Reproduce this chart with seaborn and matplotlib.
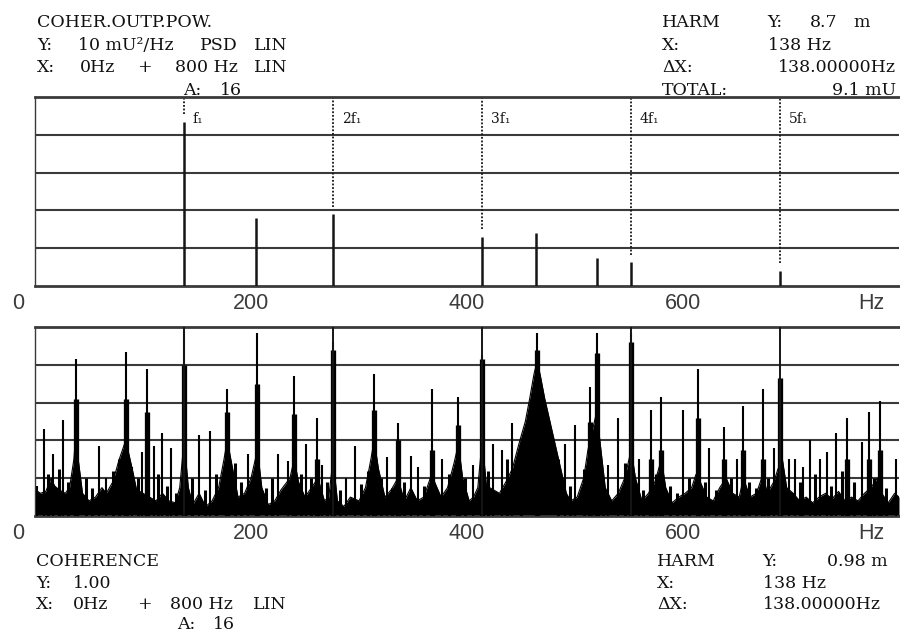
import matplotlib
matplotlib.use('Agg')
import matplotlib.pyplot as plt
import pandas as pd
import seaborn as sns

# harmonic cursors
harm_f = [138, 276, 414, 552, 690]
harm_labels = ['f₁', '2f₁', '3f₁', '4f₁', '5f₁']

# coherent output power (mU^2/Hz)
psd_f = [138, 205, 276, 414, 464, 520, 552, 690]
psd_v = [8.7, 3.6, 3.8, 2.6, 2.8, 1.5, 1.25, 0.8]

# coherence: tall spikes
spike_f = [2, 8, 17, 26, 38, 59, 66, 84, 90, 99, 104, 110, 118, 126, 138, 152, 162,
           178, 197, 206, 225, 234, 240, 251, 261, 266, 276, 288, 296, 314, 326,
           336, 348, 355, 368, 377, 392, 406, 414, 424, 432, 442, 465, 491, 500,
           514, 520, 531, 540, 552, 559, 570, 580, 600, 614, 624, 638, 650, 656,
           674, 684, 690, 698, 704, 711, 718, 727, 733, 742, 752, 766, 772, 782, 797]
spike_v = [0.16, 0.46, 0.33, 0.51, 0.83, 0.37, 0.2, 0.87, 0.26, 0.34, 0.78, 0.37, 0.44,
           0.36, 0.98, 0.43, 0.45, 0.67, 0.33, 0.97, 0.33, 0.29, 0.74, 0.38, 0.52,
           0.27, 0.92, 0.2, 0.37, 0.75, 0.31, 0.49, 0.32, 0.26, 0.67, 0.3, 0.63,
           0.27, 0.85, 0.38, 0.35, 0.49, 0.97, 0.38, 0.48, 0.68, 0.97, 0.27, 0.52,
           0.97, 0.3, 0.56, 0.63, 0.56, 0.78, 0.36, 0.47, 0.3, 0.58, 0.67, 0.36,
           0.73, 0.3, 0.3, 0.26, 0.4, 0.3, 0.34, 0.44, 0.52, 0.39, 0.55, 0.61, 0.3]

# coherence: small spikes in the floor
small_f = [12, 22, 31, 47, 53, 72, 78, 95, 114, 122, 131, 145, 157, 168, 185, 191,
           214, 219, 246, 256, 270, 282, 302, 308, 320, 331, 342, 360, 383, 398,
           419, 437, 450, 484, 495, 508, 526, 546, 563, 575, 588, 594, 606, 620,
           631, 644, 661, 668, 679, 708, 722, 737, 747, 758, 777, 788]
small_v = [0.22, 0.25, 0.18, 0.2, 0.15, 0.24, 0.3, 0.2, 0.22, 0.16, 0.12, 0.2, 0.14,
           0.22, 0.28, 0.18, 0.15, 0.2, 0.22, 0.2, 0.18, 0.14, 0.17, 0.24, 0.2, 0.15,
           0.18, 0.16, 0.22, 0.2, 0.24, 0.3, 0.36, 0.3, 0.16, 0.25, 0.2, 0.28, 0.14,
           0.22, 0.16, 0.12, 0.2, 0.18, 0.14, 0.2, 0.18, 0.15, 0.2, 0.18, 0.22, 0.16,
           0.24, 0.18, 0.2, 0.15]

# coherence: thicker lower part of the main peaks
skirt_f = [38, 84, 104, 138, 178, 206, 240, 261, 276, 314, 336, 368, 392, 414,
           465, 514, 520, 552, 570, 580, 614, 638, 656, 674, 690, 752, 772, 782]
skirt_v = [0.62, 0.62, 0.55, 0.8, 0.55, 0.7, 0.54, 0.3, 0.88, 0.56, 0.4, 0.35, 0.48,
           0.83, 0.88, 0.5, 0.86, 0.92, 0.3, 0.35, 0.52, 0.3, 0.35, 0.3, 0.73, 0.3,
           0.3, 0.35]

# coherence: filled floor
env_f = [0, 5, 10, 15, 18, 22, 28, 32, 36, 38, 40, 44, 50, 56, 62, 66, 72, 78, 84,
         90, 94, 100, 106, 112, 118, 124, 130, 134, 138, 142, 146, 152, 158, 164,
         170, 175, 178, 182, 188, 194, 200, 206, 210, 216, 222, 228, 236, 240, 244,
         250, 256, 262, 268, 272, 276, 280, 286, 292, 300, 306, 311, 314, 318, 324,
         330, 336, 342, 348, 354, 360, 366, 370, 376, 382, 388, 392, 396, 402, 406,
         410, 414, 418, 424, 430, 436, 442, 448, 454, 458, 462, 465, 468, 472, 476,
         480, 484, 488, 492, 496, 502, 508, 512, 516, 520, 524, 528, 534, 540, 546,
         550, 552, 556, 562, 568, 574, 580, 584, 590, 596, 602, 608, 612, 616, 622,
         628, 634, 640, 646, 652, 656, 662, 668, 674, 678, 684, 688, 692, 696, 702,
         708, 714, 720, 726, 732, 738, 744, 750, 756, 762, 768, 774, 780, 784, 790,
         796, 800]
env_v = [0.14, 0.12, 0.13, 0.2, 0.16, 0.14, 0.12, 0.15, 0.3, 0.45, 0.3, 0.12, 0.08,
         0.1, 0.15, 0.12, 0.18, 0.3, 0.4, 0.25, 0.14, 0.12, 0.1, 0.08, 0.12, 0.08,
         0.07, 0.15, 0.4, 0.15, 0.06, 0.12, 0.05, 0.08, 0.15, 0.3, 0.4, 0.28, 0.1,
         0.12, 0.2, 0.35, 0.15, 0.06, 0.08, 0.14, 0.2, 0.3, 0.18, 0.1, 0.15, 0.2,
         0.08, 0.1, 0.3, 0.08, 0.05, 0.1, 0.08, 0.15, 0.3, 0.4, 0.25, 0.1, 0.14, 0.2,
         0.08, 0.15, 0.08, 0.1, 0.2, 0.18, 0.1, 0.15, 0.28, 0.38, 0.2, 0.08, 0.1,
         0.15, 0.4, 0.16, 0.14, 0.12, 0.18, 0.25, 0.38, 0.5, 0.62, 0.75, 0.82, 0.74,
         0.62, 0.52, 0.42, 0.32, 0.22, 0.12, 0.08, 0.1, 0.2, 0.35, 0.45, 0.55, 0.35,
         0.15, 0.08, 0.12, 0.2, 0.3, 0.35, 0.2, 0.08, 0.12, 0.18, 0.3, 0.15, 0.07,
         0.1, 0.12, 0.15, 0.22, 0.18, 0.1, 0.08, 0.15, 0.2, 0.12, 0.1, 0.2, 0.1,
         0.12, 0.22, 0.12, 0.18, 0.25, 0.3, 0.15, 0.12, 0.08, 0.1, 0.07, 0.1, 0.12,
         0.09, 0.13, 0.08, 0.1, 0.08, 0.12, 0.15, 0.2, 0.12, 0.07, 0.12, 0.1]

xtick_vals = [0, 200, 400, 600]

sns.set_theme(style='white')
plt.rcParams['font.family'] = ['DejaVu Serif']

W, H = 900, 635
fig = plt.figure(figsize=(9, 6.35), dpi=100)
ax1 = fig.add_axes([35 / W, 1 - 286 / H, 864 / W, 189 / H])
ax2 = fig.add_axes([35 / W, 1 - 516 / H, 864 / W, 189 / H])

ink = '#151515'
grid_c = '#3a3a3a'


def frame(ax, ymax):
    ax.set_xlim(0, 800)
    ax.set_ylim(0, ymax)
    for y in [ymax * k / 5 for k in range(1, 5)]:
        ax.axhline(y, color=grid_c, lw=1.5, zorder=1)
    for side in ['top', 'bottom']:
        ax.spines[side].set_color(grid_c)
        ax.spines[side].set_linewidth(2)
    ax.spines['left'].set_color(grid_c)
    ax.spines['left'].set_linewidth(1)
    ax.spines['right'].set_visible(False)
    ax.set_xticks(range(0, 801, 100))
    ax.set_xticklabels([])
    ax.set_yticks([ymax * k / 10 for k in range(1, 10, 2)])
    ax.set_yticklabels([])
    ax.tick_params(length=2.5, width=1, color=grid_c, direction='out')
    ax.set_xlabel('')
    ax.set_ylabel('')
    tr = ax.get_xaxis_transform()
    for v in xtick_vals:
        ax.text(v if v else -15.5, -0.09, str(v), transform=tr, ha='center', va='center',
                fontsize=15.5, color='#3c3c3c', family=['Liberation Sans', 'DejaVu Sans'])
    ax.text(774, -0.09, 'Hz', transform=tr, ha='center', va='center',
            fontsize=15.5, color='#3c3c3c', family=['Liberation Sans', 'DejaVu Sans'])


# --- top: coherent output power
frame(ax1, 10)
psd = dict(zip(psd_f, psd_v))
ax1.vlines(harm_f, [psd[f] + 0.4 for f in harm_f], 10, color=ink, lw=1.3,
           linestyles=(0, (1, 1)), zorder=2)
ax1.vlines(psd_f, 0, psd_v, color=ink, lw=1.8, zorder=3)
for f, lab in zip(harm_f, harm_labels):
    ax1.text(f + 8, 0.86, lab, transform=ax1.get_xaxis_transform(), fontsize=10,
             color=ink, va='baseline', ha='left')

# --- bottom: coherence
frame(ax2, 1.0)
env = pd.DataFrame({'f': env_f, 'v': env_v})
ax2.fill_between(env['f'], 0, env['v'], color='black', lw=0, zorder=2)
sns.lineplot(data=env, x='f', y='v', ax=ax2, color='black', lw=0.8,
             estimator=None, zorder=2)
ax2.vlines(small_f, 0, small_v, color='black', lw=2.2, zorder=3)
ax2.vlines(skirt_f, 0, skirt_v, color='black', lw=3.8, zorder=3)
ax2.vlines(spike_f, 0, spike_v, color='black', lw=1.5, zorder=3)
ax2.vlines(harm_f, 0, 1, color=ink, lw=1.4, zorder=3)
ax2.set_xlabel('')
ax2.set_ylabel('')


def txt(x, y, s, **kw):
    fig.text(x / W, 1 - y / H, s, fontsize=12.5, color='#111111',
             va='baseline', ha='left', **kw)


# header, top-left
txt(37, 27, 'COHER.OUTP.POW.')
txt(37, 50, 'Y:')
txt(78, 50, '10 mU²/Hz')
txt(200, 50, 'PSD')
txt(254, 50, 'LIN')
txt(37, 72, 'X:')
txt(80, 72, '0Hz')
txt(137, 72, '+')
txt(175, 72, '800 Hz')
txt(254, 72, 'LIN')
txt(183, 95, 'A:')
txt(220, 95, '16')

# header, top-right
txt(662, 27, 'HARM')
txt(767, 27, 'Y:')
txt(810, 27, '8.7')
txt(853, 27, 'm')
txt(662, 50, 'X:')
txt(768, 50, '138 Hz')
txt(662, 72, 'ΔX:')
txt(778, 72, '138.00000Hz')
txt(662, 95, 'TOTAL:')
txt(832, 95, '9.1 mU')

# footer, bottom-left
txt(36, 566, 'COHERENCE')
txt(36, 588, 'Y:')
txt(73, 588, '1.00')
txt(36, 609, 'X:')
txt(73, 609, '0Hz')
txt(137, 609, '+')
txt(170, 609, '800 Hz')
txt(253, 609, 'LIN')
txt(177, 629, 'A:')
txt(213, 629, '16')

# footer, bottom-right
txt(657, 566, 'HARM')
txt(762, 566, 'Y:')
txt(827, 566, '0.98 m')
txt(657, 588, 'X:')
txt(763, 588, '138 Hz')
txt(657, 609, 'ΔX:')
txt(763, 609, '138.00000Hz')

fig.savefig('out.png', dpi=100, facecolor='white')
